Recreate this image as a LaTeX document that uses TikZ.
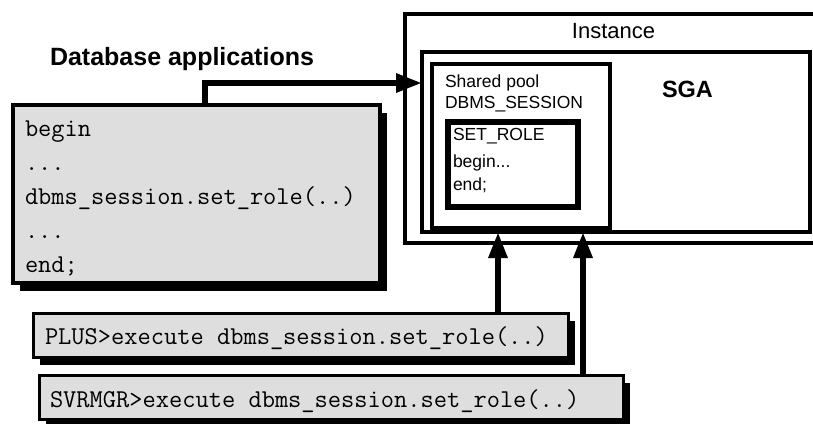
\documentclass[tikz,border=0pt]{standalone}
\usepackage{fontspec}
\setmainfont{Liberation Sans}
\usetikzlibrary{arrows.meta,shadows,positioning}

\begin{document}
\begin{tikzpicture}[x=1pt,y=-1pt,every node/.style={outer sep=0pt},
    frame/.style={draw,inner sep=0pt,anchor=north west},
    codebox/.style={frame,line width=3.5pt,fill=black!13,
      drop shadow={shadow xshift=7pt,shadow yshift=-8pt,fill=black,opacity=1}},
    code/.style={font=\fontsize{25.7}{30}\ttfamily,inner sep=0pt,anchor=base west},
    label/.style={font=\fontsize{17.5}{21}\selectfont,inner sep=0pt,anchor=base west},
    flow/.style={line width=6pt,-{Triangle[length=26pt,width=18pt]}}]

    \useasboundingbox (0,0) rectangle (813,423);
    \clip (0,0) rectangle (813,423);

    % instance with the SGA inside
    \node[frame,line width=4pt,minimum width=417,minimum height=229] (inst) at (405,14) {};
    \node[frame,line width=4pt,minimum width=388,minimum height=180] (sga) at (422,52) {};
    \node[frame,line width=3.5pt,minimum width=178,minimum height=164] (pool) at (432,64) {};
    \node[frame,line width=5.5pt,minimum width=130,minimum height=85] (role) at (448,122) {};

    \node[anchor=base,inner sep=0pt,font=\fontsize{22}{26}\selectfont] (insttitle) at ([yshift=-24]inst.north) {Instance};
    \node[anchor=base west,inner sep=0pt,font=\bfseries\fontsize{23.5}{28}\selectfont] (sgatitle) at (662,97) {SGA};
    \node[label] (pooltitle) at ([xshift=13,yshift=-23]pool.north west) {Shared pool};
    \node[label] (poolpkg) at ([yshift=-21]pooltitle.base west) {DBMS\_SESSION};
    \node[label] (roletitle) at ([xshift=5,yshift=-18]role.north west) {SET\_ROLE};
    \node[label] (rolebegin) at ([yshift=-27]roletitle.base west) {begin...};
    \node[label] (roleend) at ([yshift=-23]rolebegin.base west) {end;};

    % applications
    \node[anchor=base west,inner sep=0pt,font=\bfseries\fontsize{25}{30}\selectfont] (apptitle) at (50,65) {Database applications};
    \node[codebox,minimum width=367,minimum height=178] (app) at (13,105) {};
    \node[code] (c1) at ([xshift=12,yshift=-31]app.north west) {begin};
    \node[code] (c2) at ([yshift=-34]c1.base west) {...};
    \node[code] (c3) at ([yshift=-34]c2.base west) {dbms\_session.set\_role(..)};
    \node[code] (c4) at ([yshift=-34]c3.base west) {...};
    \node[code] (c5) at ([yshift=-34]c4.base west) {end;};

    \node[codebox,line width=3pt,minimum width=535,minimum height=44] (plus) at (33,313) {};
    \node[code] (plustext) at ([xshift=12,yshift=-31]plus.north west) {PLUS>execute dbms\_session.set\_role(..)};
    \node[codebox,line width=3pt,minimum width=584,minimum height=44] (svr) at (39,375) {};
    \node[code] (svrtext) at ([xshift=11,yshift=-32]svr.north west) {SVRMGR>execute dbms\_session.set\_role(..)};

    \draw[flow] ([xshift=8]app.north) -- ++(0,-22) coordinate(aux) -- (sga.west|-aux);
    \foreach \b/\d in {plus/70,svr/40}
      \draw[flow] ([xshift=-\d]\b.north east) coordinate(aux\b) -- (sga.south-|aux\b);
\end{tikzpicture}
\end{document}
